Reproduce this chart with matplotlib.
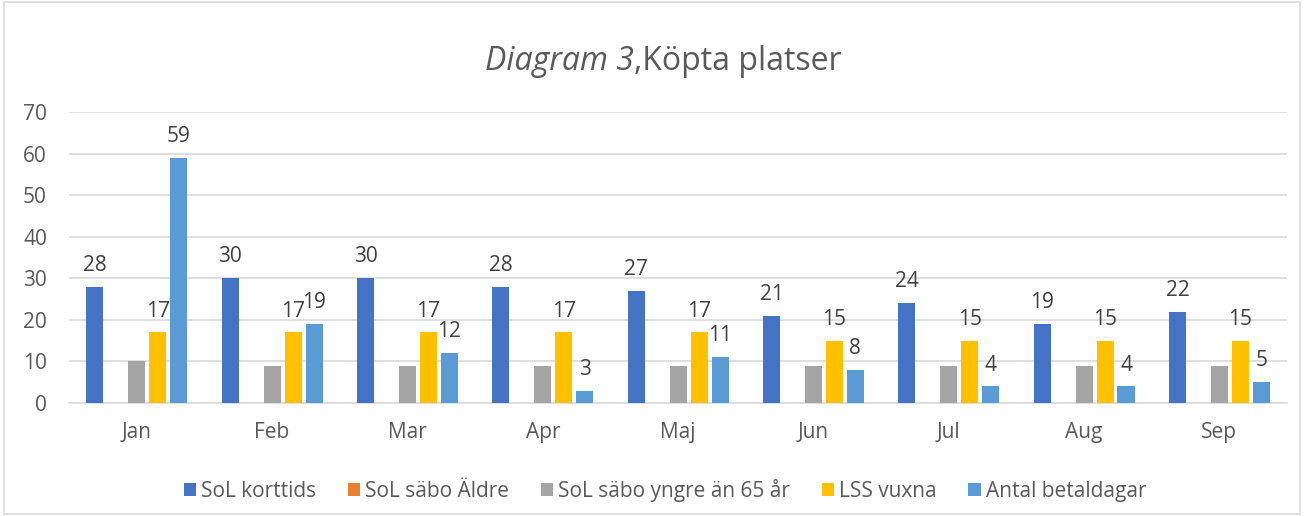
import numpy as np
import matplotlib.pyplot as plt
from matplotlib.patches import Rectangle

plt.rcParams['font.family'] = ['Open Sans', 'DejaVu Sans']

months = ['Jan', 'Feb', 'Mar', 'Apr', 'Maj', 'Jun', 'Jul', 'Aug', 'Sep']
sol_korttids = [28, 30, 30, 28, 27, 21, 24, 19, 22]
sol_sabo_aldre = [0, 0, 0, 0, 0, 0, 0, 0, 0]
sol_sabo_yngre = [10, 9, 9, 9, 9, 9, 9, 9, 9]
lss_vuxna = [17, 17, 17, 17, 17, 15, 15, 15, 15]
antal_betaldagar = [59, 19, 12, 3, 11, 8, 4, 4, 5]

series = [
    ('SoL korttids', sol_korttids, '#4472C4', True),
    ('SoL säbo Äldre', sol_sabo_aldre, '#ED7D31', False),
    ('SoL säbo yngre än 65 år', sol_sabo_yngre, '#A5A5A5', False),
    ('LSS vuxna', lss_vuxna, '#FFC000', True),
    ('Antal betaldagar', antal_betaldagar, '#5B9BD5', True),
]

text_col = '#595959'
fig = plt.figure(figsize=(13.04, 5.16), dpi=100)
fig.patches.append(Rectangle((0.003, 0.004), 0.994, 0.992, transform=fig.transFigure,
                             fill=False, edgecolor='#D9D9D9', linewidth=1.2))
ax = fig.add_axes([0.053, 0.219, 0.934, 0.564])

x = np.arange(len(months))
slot = 0.155
width = 0.126
for i, (name, vals, col, show) in enumerate(series):
    pos = x + (i - 2) * slot
    ax.bar(pos, vals, width, color=col, label=name, zorder=3)
    if show:
        for xp, v in zip(pos, vals):
            ax.text(xp, v + 2.6, str(v), ha='center', va='bottom', fontsize=15, color='#404040')

ax.set_xlim(-0.5, len(months) - 0.5)
ax.set_ylim(0, 70)
ax.set_yticks(range(0, 71, 10))
ax.set_xticks(x)
ax.set_xticklabels(months)
ax.grid(axis='y', color='#D9D9D9', linewidth=1.2, zorder=0)
for s in ['top', 'right', 'left']:
    ax.spines[s].set_visible(False)
ax.spines['bottom'].set_color('#D9D9D9')
ax.spines['bottom'].set_linewidth(1.2)
ax.tick_params(axis='both', length=0, labelsize=15, colors=text_col)
ax.tick_params(axis='y', pad=16)
ax.tick_params(axis='x', pad=14)

# title: italic part + normal part placed right after it
t1 = fig.text(0.372, 0.88, 'Diagram 3', style='italic', ha='left', va='center',
              fontsize=23, color=text_col)
fig.canvas.draw()
bb = t1.get_window_extent().transformed(fig.transFigure.inverted())
fig.text(bb.x1, 0.88, ',Köpta platser', ha='left', va='center', fontsize=23, color=text_col)

fig.legend(loc='center', bbox_to_anchor=(0.51, 0.05), ncol=5, frameon=False,
           fontsize=15, labelcolor=text_col, handlelength=0.6, handleheight=0.6,
           handletextpad=0.25, columnspacing=1.5)

fig.savefig('out.png', dpi=100)
